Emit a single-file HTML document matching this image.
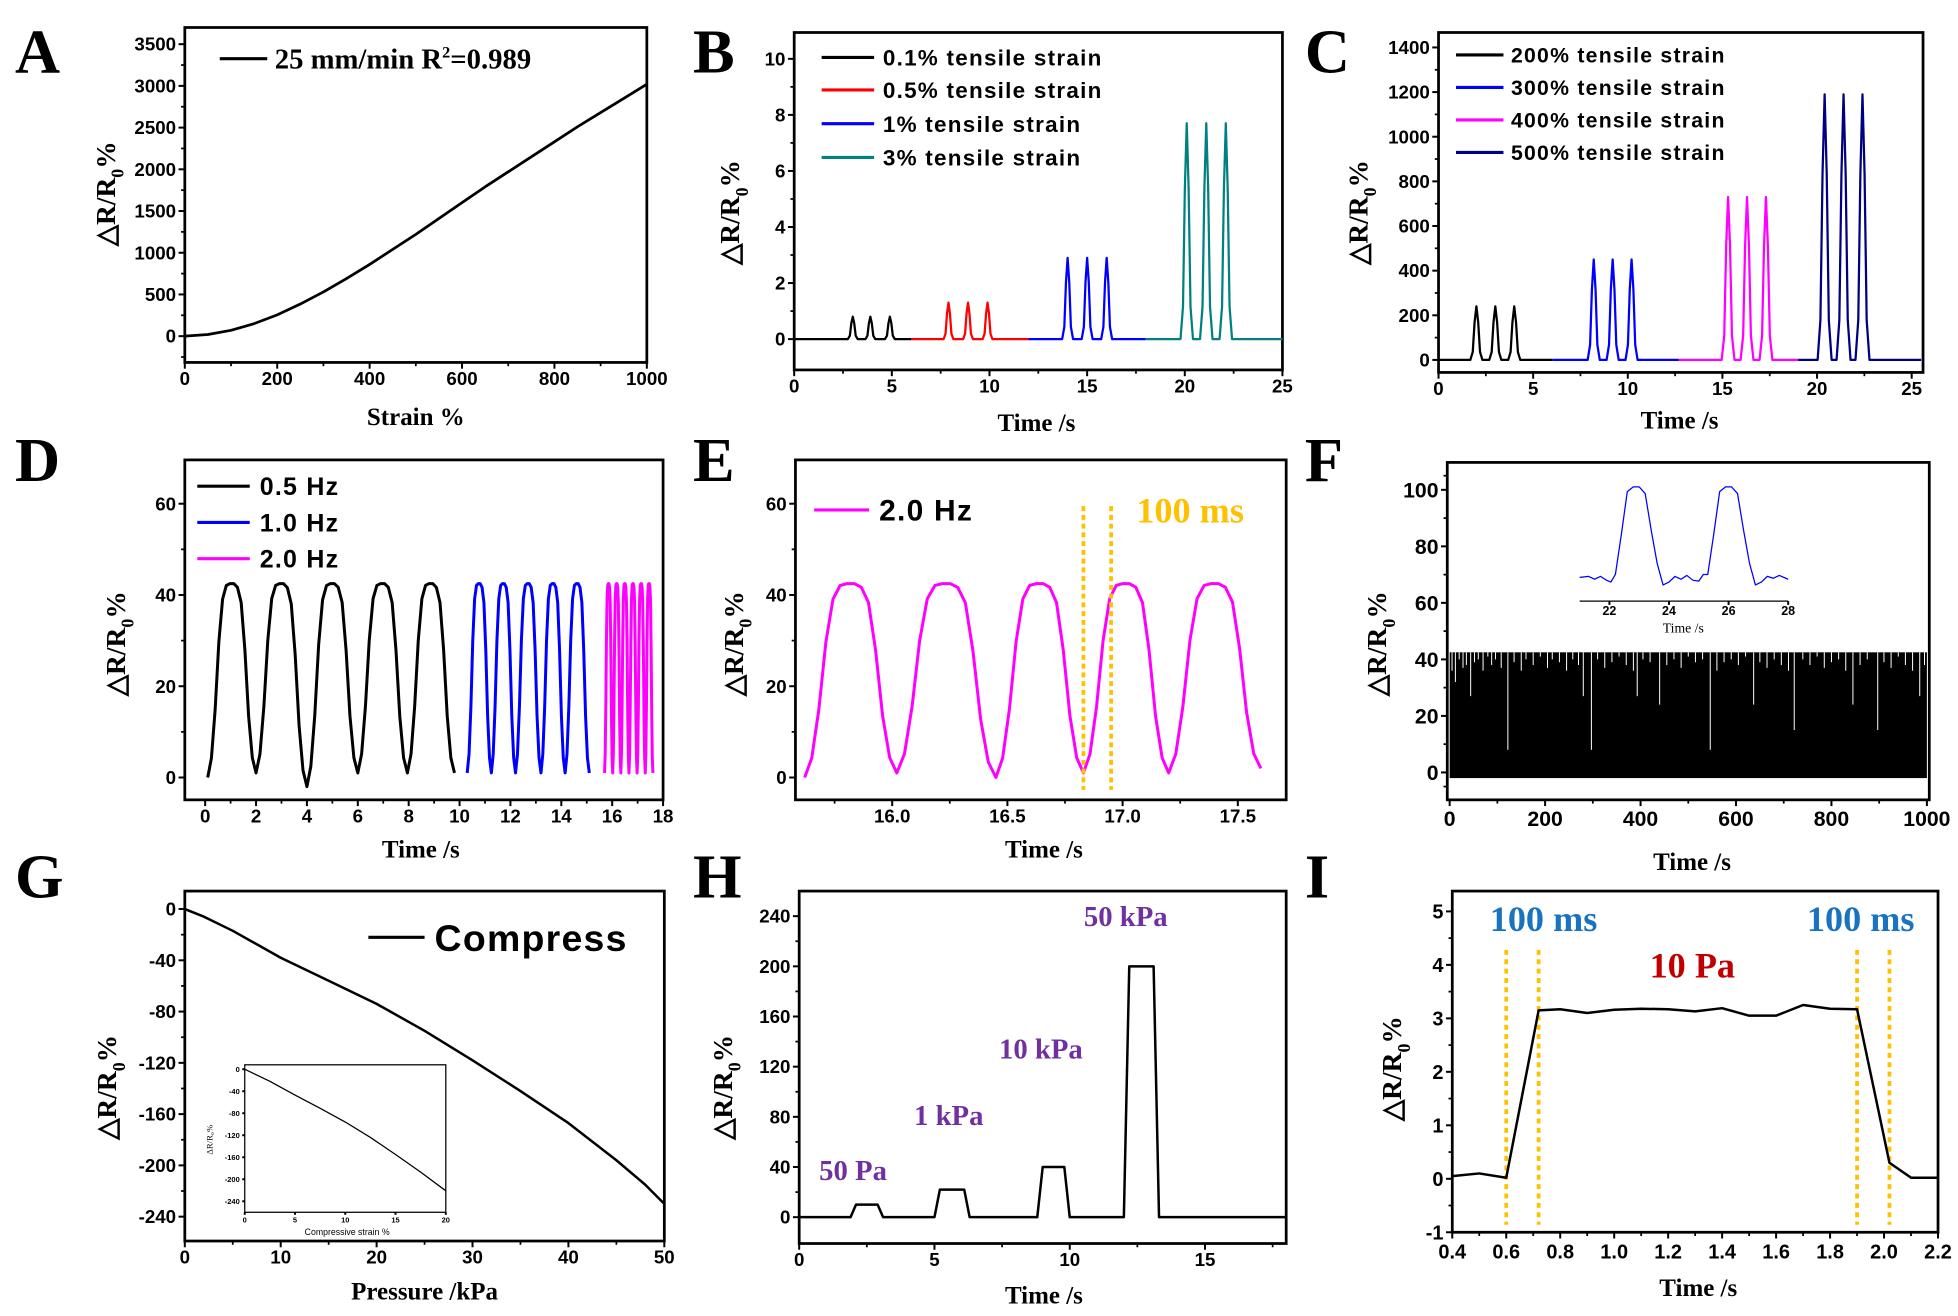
<!DOCTYPE html>
<html><head><meta charset="utf-8"><style>
html,body{margin:0;padding:0;background:#fff;overflow:hidden}
svg{display:block;font-family:"Liberation Sans",sans-serif}
</style></head><body>
<svg id="fig" xmlns="http://www.w3.org/2000/svg" width="1958" height="1316" viewBox="0 0 1568 1053" preserveAspectRatio="none"></svg>
<script>
// ---------- data ----------
const aStrain=[0,50,100,150,200,250,300,350,400,450,500,550,600,650,700,750,800,850,900,950,1000];
const aResp=[0,20,70,150,255,385,530,690,860,1040,1220,1410,1600,1790,1970,2150,2330,2510,2680,2850,3020];

const bPeaks0=[3.0,3.9,4.9], bH0=0.8;
const bPeaks1=[7.9,8.9,9.9], bH1=1.3;
const bPeaks2=[14.0,15.0,16.0], bH2=2.9;
const bPeaks3=[20.1,21.1,22.1], bH3=7.7;

const cPeaks0=[2.0,3.0,4.0], cH0=240;
const cPeaks1=[8.2,9.2,10.2], cH1=450;
const cPeaks2=[15.3,16.3,17.3], cH2=730;
const cPeaks3=[20.4,21.4,22.4], cH3=1190;

const dTrough0=[0.1,2.0,4.0,6.0,7.95,9.8], dLow0=[0,1,-2,1,1,1];
const dTrough1=[10.3,11.25,12.2,13.2,14.15,15.1], dLow1=[1,1,1,1,1,1];
const dTrough2=[15.7,16.02,16.34,16.66,16.98,17.3,17.6], dLow2=[1,1,1,1,1,1,1];
const dPeak=42.5;

const eTrough=[15.62,16.02,16.45,16.83,17.2,17.6], eLow=[0,1,0,1,1,2];

const fT=[5,12,20,28,35,44,52,60,70,80,88,96,108,122,135,150,160,175,190,205,215,230,245,258,270,280,297,310,325,340,355,370,385,393,405,420,440,455,470,485,500,515,530,546,560,575,590,605,620,637,650,665,680,695,710,722,740,755,770,785,800,815,830,845,860,875,897,910,925,940,955,970,985,995];
const fD=[36,32,40,37,38,27,39,40,36,41,38,40,37,8,39,36,40,38,41,37,40,39,36,40,38,27,8,40,37,39,41,38,36,27,40,39,24,38,40,37,41,39,40,8,36,39,40,38,41,24,39,37,40,38,36,15,40,38,41,37,39,40,36,24,38,40,15,39,37,41,38,36,27,38];
const fiT=[21,21.3,21.5,21.7,21.9,22.05,22.2,22.4,22.6,22.8,23.0,23.2,23.4,23.6,23.8,24.0,24.2,24.4,24.6,24.8,25.0,25.15,25.3,25.5,25.7,25.9,26.1,26.3,26.5,26.7,26.9,27.1,27.3,27.5,27.7,28];
const fiV=[0.05,0.06,0.03,0.06,0.02,0.0,0.08,0.5,0.95,1.0,1.0,0.93,0.55,0.2,-0.03,0.0,0.06,0.03,0.07,0.02,0.01,0.08,0.08,0.5,0.95,1.0,1.0,0.93,0.55,0.2,-0.03,0.0,0.06,0.04,0.07,0.03];

const gP=[0,2,5,10,15,20,25,30,35,40,45,48,50];
const gR=[0,-6,-17,-38,-56,-74,-95,-118,-142,-167,-196,-215,-230];
const giS=[0,2.5,5,7.5,10,12.5,15,17.5,20];
const giR=[0,-22,-47,-71,-96,-124,-155,-187,-221];

const hT=[0,1.9,2.1,2.9,3.1,5.0,5.2,6.1,6.3,8.8,9.0,9.8,10.0,12.0,12.2,13.1,13.3,18];
const hR=[0,0,10,10,0,0,22,22,0,0,40,40,0,0,200,200,0,0];

const iT=[0.4,0.5,0.6,0.72,0.8,0.9,1.0,1.1,1.2,1.3,1.4,1.5,1.6,1.7,1.8,1.9,2.02,2.1,2.2];
const iR=[0.05,0.1,0.02,3.15,3.17,3.1,3.16,3.18,3.17,3.13,3.19,3.05,3.05,3.25,3.18,3.17,0.3,0.02,0.02];

// ---------- helpers ----------
const NS="http://www.w3.org/2000/svg";
const fig=document.getElementById('fig');
function el(tag,attrs,name,parent){
  const e=document.createElementNS(NS,tag);
  for(const k in attrs) e.setAttribute(k,attrs[k]);
  
  
  (parent||fig).appendChild(e);
  return e;
}
function txt(s,x,y,attrs,name,parent){
  const e=el('text',Object.assign({x:x,y:y},attrs),name,parent);
  e.textContent=s;
  return e;
}
const TICKFONT='"Liberation Sans Narrow","Liberation Sans",sans-serif';
const SERIF='"Liberation Serif",serif';
function axes(g,c){
  const sx=v=>c.L+(v-c.xmin)/(c.xmax-c.xmin)*(c.R-c.L);
  const sy=v=>c.B-(v-c.ymin)/(c.ymax-c.ymin)*(c.B-c.T);
  const fs=c.fs||15;
  if(c.box!==false) el('rect',{x:c.L,y:c.T,width:c.R-c.L,height:c.B-c.T,fill:'none',stroke:'#000','stroke-width':c.sw||2.2},'plot-frame',g);
  (c.xt||[]).forEach((v,i)=>{
    el('line',{x1:sx(v),x2:sx(v),y1:c.B,y2:c.B+(c.tl||5),stroke:'#000','stroke-width':1.6},'x-tick',g);
    txt(c.xl[i],sx(v),c.B+(c.xo||18),{'text-anchor':'middle','font-size':fs,'font-weight':'bold','font-family':TICKFONT},'x-tick-label',g);
  });
  (c.xm||[]).forEach(v=>el('line',{x1:sx(v),x2:sx(v),y1:c.B,y2:c.B+3,stroke:'#000','stroke-width':1.4},'x-minor-tick',g));
  (c.yt||[]).forEach((v,i)=>{
    el('line',{x1:c.L-(c.tl||5),x2:c.L,y1:sy(v),y2:sy(v),stroke:'#000','stroke-width':1.6},'y-tick',g);
    if(c.yl) txt(c.yl[i],c.L-(c.yo||7),sy(v)+fs*0.35,{'text-anchor':'end','font-size':fs,'font-weight':'bold','font-family':TICKFONT},'y-tick-label',g);
  });
  (c.ym||[]).forEach(v=>el('line',{x1:c.L-3,x2:c.L,y1:sy(v),y2:sy(v),stroke:'#000','stroke-width':1.4},'y-minor-tick',g));
  return {sx,sy};
}
function line(g,xs,ys,ax,color,w,name){
  const d=xs.map((x,i)=>(i?'L':'M')+ax.sx(x).toFixed(2)+','+ax.sy(ys[i]).toFixed(2)).join('');
  return el('path',{d:d,fill:'none',stroke:color,'stroke-width':w||2,'stroke-linejoin':'round'},name,g);
}
function letter(s,x,y){ txt(s,x,y,{'font-size':50,'font-weight':'bold','font-family':SERIF},'panel-label-'+s.toLowerCase()); }
function ytitle(g,x,y,fs){
  const t=el('text',{transform:`translate(${x},${y}) rotate(-90)`,'text-anchor':'middle','font-size':fs||22,'font-weight':'bold','font-family':SERIF},'y-axis-title',g);
  t.innerHTML='△R/R<tspan dy="7" font-size="'+((fs||22)*0.65)+'">0</tspan><tspan dy="-7">%</tspan>';
}
function xtitle(g,s,x,y,fs){ txt(s,x,y,{'text-anchor':'middle','font-size':fs||20,'font-weight':'bold','font-family':SERIF},'x-axis-title',g); }
const pkOff=[-1,-0.6,-0.3,0,0.3,0.6,1], pkShape=[0,0.15,0.7,1,0.7,0.15,0];
function peakSeries(start,end,times,h,hw){
  const xs=[start],ys=[0];
  times.forEach(t=>pkOff.forEach((o,i)=>{xs.push(t+o*hw);ys.push(h*pkShape[i]);}));
  xs.push(end);ys.push(0);
  return [xs,ys];
}
const cyc=[0,0.1,0.35,0.7,0.92,0.99,1,1,0.98,0.9,0.65,0.3,0.08,0];
function cycSeries(tr,lo,pk){
  const xs=[],ys=[];
  for(let k=0;k<tr.length-1;k++){
    const n=cyc.length-1;
    for(let j=(k?1:0);j<=n;j++){
      const f=j/n;
      const base=f<0.5?lo[k]:lo[k+1];
      xs.push(tr[k]+(tr[k+1]-tr[k])*f);
      ys.push(base+(pk-base)*cyc[j]);
    }
  }
  return [xs,ys];
}
function range(a,b,s){const r=[];for(let v=a;v<=b+1e-9;v+=s)r.push(+v.toFixed(4));return r;}
function legendLine(g,x1,x2,y,color,label,tx,fs,name,font){
  el('line',{x1:x1,x2:x2,y1:y,y2:y,stroke:color,'stroke-width':2.5},name+'-swatch',g);
  txt(label,tx,y+fs*0.36,{'font-size':fs,'font-weight':'bold','font-family':font||'"Liberation Sans",sans-serif','letter-spacing':'1'},name+'-label',g);
}

// ---------- Panel A ----------
{
  const g=el('g',{},'panel-a');
  letter('A',12,58);
  const ax=axes(g,{L:148,R:518,T:22,B:290,xmin:0,xmax:1000,ymin:-315,ymax:3700,
    xt:range(0,1000,200),xl:['0','200','400','600','800','1000'],xm:range(100,900,200),
    yt:range(0,3500,500),yl:['0','500','1000','1500','2000','2500','3000','3500'],ym:range(250,3250,500).concat([-250])});
  line(g,aStrain,aResp,ax,'#000',2.2,'strain-curve');
  el('line',{x1:176,x2:214,y1:47,y2:47,stroke:'#000','stroke-width':2.5},'legend-swatch',g);
  const t=txt('',220,55,{'font-size':23,'font-weight':'bold','font-family':SERIF},'legend-label',g);
  t.innerHTML='25 mm/min  R<tspan dy="-9" font-size="13">2</tspan><tspan dy="9">=0.989</tspan>';
  ytitle(g,92,155,22);
  xtitle(g,'Strain %',333,340);
}
// ---------- Panel B ----------
{
  const g=el('g',{},'panel-b');
  letter('B',555,58);
  const ax=axes(g,{L:636,R:1027,T:26,B:296,xmin:0,xmax:25,ymin:-1.1,ymax:10.94,
    xt:range(0,25,5),xl:['0','5','10','15','20','25'],xm:range(2.5,22.5,5),
    yt:range(0,10,2),yl:['0','2','4','6','8','10'],ym:range(1,9,2)});
  const s=[[0,6,bPeaks0,bH0,0.25,'#000'],[6,12,bPeaks1,bH1,0.25,'#ff0000'],[12,18,bPeaks2,bH2,0.28,'#0000ff'],[18,25,bPeaks3,bH3,0.32,'#008080']];
  s.forEach((p,i)=>{const [xs,ys]=peakSeries(p[0],p[1],p[2],p[3],p[4]);line(g,xs,ys,ax,p[5],1.8,'series-'+i);});
  const lab=['0.1% tensile strain','0.5% tensile strain','1% tensile strain','3% tensile strain'];
  [46,72,99,126].forEach((y,i)=>legendLine(g,658,700,y,s[i][5],lab[i],707,18,'legend-entry'));
  ytitle(g,592,170,22);
  xtitle(g,'Time /s',830,345);
}
// ---------- Panel C ----------
{
  const g=el('g',{},'panel-c');
  letter('C',1045,58);
  const ax=axes(g,{L:1152,R:1540,T:26,B:298,xmin:0,xmax:25.6,ymin:-56,ymax:1467,
    xt:range(0,25,5),xl:['0','5','10','15','20','25'],xm:range(2.5,22.5,5),
    yt:range(0,1400,200),yl:['0','200','400','600','800','1000','1200','1400'],ym:range(100,1300,200)});
  const s=[[0,6,cPeaks0,cH0,0.32,'#000'],[6,12.7,cPeaks1,cH1,0.32,'#0000ff'],[12.7,19,cPeaks2,cH2,0.34,'#ff00ff'],[19,25.5,cPeaks3,cH3,0.37,'#000080']];
  s.forEach((p,i)=>{const [xs,ys]=peakSeries(p[0],p[1],p[2],p[3],p[4]);line(g,xs,ys,ax,p[5],1.8,'series-'+i);});
  const lab=['200% tensile strain','300% tensile strain','400% tensile strain','500% tensile strain'];
  [44,70,96,122].forEach((y,i)=>legendLine(g,1166,1204,y,s[i][5],lab[i],1210,17,'legend-entry'));
  ytitle(g,1095,170,22);
  xtitle(g,'Time /s',1345,343);
}
// ---------- Panel D ----------
{
  const g=el('g',{},'panel-d');
  letter('D',12,385);
  const ax=axes(g,{L:148,R:531,T:368,B:640,xmin:-0.8,xmax:18,ymin:-4.9,ymax:69.6,
    xt:range(0,18,2),xl:['0','2','4','6','8','10','12','14','16','18'],xm:range(1,17,2),
    yt:range(0,60,20),yl:['0','20','40','60'],ym:range(10,50,20)});
  const s=[[dTrough0,dLow0,'#000'],[dTrough1,dLow1,'#0000ff'],[dTrough2,dLow2,'#ff00ff']];
  s.forEach((p,i)=>{const [xs,ys]=cycSeries(p[0],p[1],dPeak);line(g,xs,ys,ax,p[2],2.4,'series-'+i);});
  const lab=['0.5 Hz','1.0 Hz','2.0 Hz'];
  [389,418,447].forEach((y,i)=>legendLine(g,158,200,y,s[i][2],lab[i],208,20,'legend-entry'));
  ytitle(g,100,515,22);
  xtitle(g,'Time /s',337,686);
}
// ---------- Panel E ----------
{
  const g=el('g',{},'panel-e');
  letter('E',555,385);
  const ax=axes(g,{L:637,R:1030,T:368,B:640,xmin:15.58,xmax:17.71,ymin:-4.9,ymax:69.6,
    xt:[16,16.5,17,17.5],xl:['16.0','16.5','17.0','17.5'],xm:[15.75,16.25,16.75,17.25],
    yt:range(0,60,20),yl:['0','20','40','60'],ym:range(10,50,20)});
  const [xs,ys]=cycSeries(eTrough,eLow,dPeak);
  line(g,xs,ys,ax,'#ff00ff',2.4,'series-2hz');
  [16.83,16.95].forEach(v=>el('line',{x1:ax.sx(v),x2:ax.sx(v),y1:405,y2:632,stroke:'#ffc000','stroke-width':3,'stroke-dasharray':'4,3'},'response-marker',g));
  legendLine(g,652,696,408,'#ff00ff','2.0 Hz',704,24,'legend-entry');
  txt('100 ms',910,418,{'font-size':29,'font-weight':'bold','font-family':SERIF,fill:'#ffc000'},'annotation-100ms',g);
  ytitle(g,595,515,22);
  xtitle(g,'Time /s',836,686);
}
// ---------- Panel F ----------
{
  const g=el('g',{},'panel-f');
  letter('F',1045,385);
  const ax=axes(g,{L:1159,R:1545,T:370,B:640,xmin:-5,xmax:1005,ymin:-9.7,ymax:109.7,
    xt:range(0,1000,200),xl:['0','200','400','600','800','1000'],xm:range(100,900,200),
    yt:range(0,100,20),yl:['0','20','40','60','80','100'],ym:range(10,90,20).concat([-5,105]),fs:17,xo:21});
  el('rect',{x:ax.sx(0),y:ax.sy(42.5),width:ax.sx(1000)-ax.sx(0),height:ax.sy(-2)-ax.sy(42.5),fill:'#000'},'cycling-band',g);
  fT.forEach((t,i)=>el('line',{x1:ax.sx(t),x2:ax.sx(t),y1:ax.sy(42.5),y2:ax.sy(fD[i]),stroke:'#fff','stroke-width':0.8},'cycle-gap',g));
  const ig=el('g',{},'inset-f',g);
  const ia=axes(ig,{L:1265,R:1432,T:385,B:481,xmin:21,xmax:28,ymin:-0.2,ymax:1.06,box:false,
    xt:[22,24,26,28],xl:['22','24','26','28'],fs:10,xo:11,tl:3});
  el('line',{x1:1265,x2:1432,y1:481,y2:481,stroke:'#000','stroke-width':1},'inset-x-axis',ig);
  line(ig,fiT,fiV,ia,'#0000ff',1,'inset-curve');
  txt('Time /s',1348,506,{'text-anchor':'middle','font-size':11,'font-family':SERIF},'inset-x-title',ig);
  ytitle(g,1110,515,22);
  xtitle(g,'Time /s',1355,696);
}
// ---------- Panel G ----------
{
  const g=el('g',{},'panel-g');
  letter('G',12,718);
  const ax=axes(g,{L:148,R:532,T:713,B:993,xmin:0,xmax:50,ymin:-259,ymax:14,
    xt:range(0,50,10),xl:['0','10','20','30','40','50'],xm:range(5,45,10),
    yt:range(-240,0,40),yl:['-240','-200','-160','-120','-80','-40','0'],ym:range(-220,-20,40)});
  line(g,gP,gR,ax,'#000',2,'compress-curve');
  legendLine(g,295,340,750,'#000','Compress',348,30,'legend-entry');
  const ig=el('g',{},'inset-g',g);
  const ia=axes(ig,{L:196,R:357,T:852,B:970,xmin:0,xmax:20,ymin:-260,ymax:8,sw:1,
    xt:[0,5,10,15,20],xl:['0','5','10','15','20'],yt:range(-240,0,40),yl:['-240','-200','-160','-120','-80','-40','0'],fs:6,xo:8,yo:4,tl:2});
  line(ig,giS,giR,ia,'#000',1,'inset-curve');
  txt('Compressive strain %',278,988,{'text-anchor':'middle','font-size':7,'font-family':'"Liberation Sans",sans-serif'},'inset-x-title',ig);
  const it=el('text',{transform:'translate(170,912) rotate(-90)','text-anchor':'middle','font-size':7,'font-family':SERIF},'inset-y-title',ig);
  it.textContent='ΔR/R₀%';
  ytitle(g,93,870,22);
  xtitle(g,'Pressure /kPa',340,1040);
}
// ---------- Panel H ----------
{
  const g=el('g',{},'panel-h');
  letter('H',555,718);
  const ax=axes(g,{L:640,R:1030,T:713,B:995,xmin:0,xmax:18,ymin:-21,ymax:260,
    xt:range(0,15,5),xl:['0','5','10','15'],xm:[2.5,7.5,12.5,17.5],
    yt:range(0,240,40),yl:['0','40','80','120','160','200','240'],ym:range(20,220,40)});
  line(g,hT,hR,ax,'#000',2,'pressure-response');
  const P='#7030a0';
  [['50 Pa',656,944],['1 kPa',732,900],['10 kPa',800,847],['50 kPa',868,741]].forEach(a=>txt(a[0],a[1],a[2],{'font-size':23,'font-weight':'bold','font-family':SERIF,fill:P},'pressure-label',g));
  ytitle(g,586,870,22);
  xtitle(g,'Time /s',836,1043);
}
// ---------- Panel I ----------
{
  const g=el('g',{},'panel-i');
  letter('I',1045,718);
  const ax=axes(g,{L:1163,R:1552,T:713,B:986,xmin:0.4,xmax:2.2,ymin:-1,ymax:5.38,
    xt:range(0.4,2.2,0.2),xl:['0.4','0.6','0.8','1.0','1.2','1.4','1.6','1.8','2.0','2.2'],xm:range(0.5,2.1,0.2),
    yt:range(-1,5,1),yl:['-1','0','1','2','3','4','5'],ym:range(-0.5,4.5,1),fs:16,xo:21});
  [0.6,0.72,1.9,2.02].forEach(v=>el('line',{x1:ax.sx(v),x2:ax.sx(v),y1:760,y2:980,stroke:'#ffc000','stroke-width':3,'stroke-dasharray':'4,3.5'},'response-marker',g));
  line(g,iT,iR,ax,'#000',2,'pulse-response');
  txt('100 ms',1193,745,{'font-size':29,'font-weight':'bold','font-family':SERIF,fill:'#1a73c0'},'annotation-rise',g);
  txt('100 ms',1447,745,{'font-size':29,'font-weight':'bold','font-family':SERIF,fill:'#1a73c0'},'annotation-fall',g);
  txt('10 Pa',1321,782,{'font-size':29,'font-weight':'bold','font-family':SERIF,fill:'#c00000'},'annotation-pressure',g);
  ytitle(g,1122,855,22);
  xtitle(g,'Time /s',1360,1037);
}
</script>
</body></html>
